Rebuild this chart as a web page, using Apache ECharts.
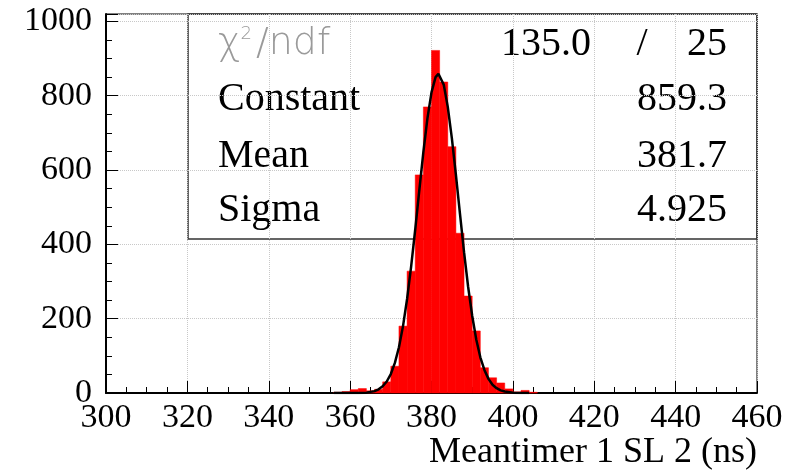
<!DOCTYPE html>
<html>
<head>
<meta charset="utf-8">
<script src="https://cdn.jsdelivr.net/npm/echarts@6/dist/echarts.min.js"></script>
<style>
html,body{margin:0;padding:0;background:#fff;}
#c{width:793px;height:471px;}
</style>
</head>
<body>
<div id="c"></div>
<script>
// Histogram bins (low edge, ns) and counts
var binWidth = 2;
var binLow = [356,358,360,362,364,366,368,370,372,374,376,378,380,382,384,386,388,390,392,394,396,398,400,402,404];
var counts = [2,4,9,12,6,10,30,72,180,328,587,770,922,837,663,430,261,167,68,41,27,11,3,7,2];

// Gaussian fit curve
var fitX = [356,358,360,362,364,366,367,368,369,370,371,372,373,374,375,376,377,378,379,380,381,381.7,382,383,384,385,386,387,388,389,390,391,392,393,394,395,396,397,398,400,402,404];
var fitY = [0,0,0,0,1,5,10,18,31,51,81,123,180,253,341,440,545,648,739,809,850,859,857,830,770,686,587,482,379,286,208,144,96,62,38,22,13,7,4,1,0,0];

// Stats box
var statNames = ['Constant','Mean','Sigma'];
var statValues = ['859.3','381.7','4.925'];
var chi2 = '135.0';
var ndf = '25';

// Axis
var xMin = 300, xMax = 460, xStep = 20;
var yMin = 0, yMax = 1020, yStep = 200;
var xTitle = 'Meantimer 1 SL 2 (ns)';

var histData = binLow.map(function(lo, i){ return [lo, lo + binWidth, counts[i]]; });
var fitData = fitX.map(function(x, i){ return [x, fitY[i]]; });

var serif = '"Liberation Serif","Times New Roman",serif';
var chart = echarts.init(document.getElementById('c'));

var graphics = [
  {type:'rect', shape:{x:188, y:14, width:569, height:225}, style:{fill:'none', stroke:'#333', lineWidth:1.5}, z:0},
  {type:'text', style:{x:218, y:44, text:'{a|χ}{b|2}{a|/ndf}', textVerticalAlign:'middle',
     rich:{a:{fontFamily:'"DejaVu Sans",sans-serif', fontWeight:200, fontSize:38, fill:'#9a9a9a', color:'#9a9a9a'},
           b:{fontFamily:'"DejaVu Sans",sans-serif', fontWeight:200, fontSize:18, fill:'#9a9a9a', color:'#9a9a9a', verticalAlign:'top', padding:[0,4,18,0]}}}},
  {type:'text', style:{x:591, y:44, text:chi2, textAlign:'right', textVerticalAlign:'middle', font:'40px '+serif, fill:'#000'}},
  {type:'text', style:{x:642, y:44, text:'/', textAlign:'center', textVerticalAlign:'middle', font:'40px '+serif, fill:'#000'}},
  {type:'text', style:{x:727, y:44, text:ndf, textAlign:'right', textVerticalAlign:'middle', font:'40px '+serif, fill:'#000'}}
];
var rowY = [99, 156, 210];
statNames.forEach(function(n, i){
  graphics.push({type:'text', style:{x:218, y:rowY[i], text:n, textVerticalAlign:'middle', font:'40px '+serif, fill:'#000'}});
  graphics.push({type:'text', style:{x:727, y:rowY[i], text:statValues[i], textAlign:'right', textVerticalAlign:'middle', font:'40px '+serif, fill:'#000'}});
});

chart.setOption({
  animation:false,
  backgroundColor:'#fff',
  grid:{left:106, right:36, top:14, bottom:77, show:true, borderColor:'#000', borderWidth:1},
  xAxis:{
    type:'value', min:xMin, max:xMax, interval:xStep,
    axisLine:{show:true, onZero:false, lineStyle:{color:'#000', width:2}},
    axisTick:{show:true, inside:true, length:12, lineStyle:{color:'#000', width:1}},
    minorTick:{show:true, splitNumber:4, length:6, lineStyle:{color:'#000', width:1}},
    splitLine:{show:true, lineStyle:{color:'#c8c8c8', type:'dotted', width:1}},
    axisLabel:{fontFamily:serif, fontSize:34, color:'#000', margin:8},
    name:xTitle, nameLocation:'end', nameGap:0,
    nameTextStyle:{fontFamily:serif, fontSize:36, color:'#000', align:'right', verticalAlign:'top', padding:[42,0,0,0]}
  },
  yAxis:{
    type:'value', min:yMin, max:yMax, interval:yStep,
    axisLine:{show:true, onZero:false, lineStyle:{color:'#000', width:2}},
    axisTick:{show:true, inside:true, length:12, lineStyle:{color:'#000', width:1}},
    minorTick:{show:true, splitNumber:4, length:6, lineStyle:{color:'#000', width:1}},
    splitLine:{show:true, lineStyle:{color:'#c8c8c8', type:'dotted', width:1}},
    axisLabel:{fontFamily:serif, fontSize:34, color:'#000', margin:14,
      formatter:function(v){ return (v % yStep === 0) ? String(v) : ''; }}
  },
  graphic: graphics,
  series:[
    {type:'custom', z:3, data:histData, encode:{x:[0,1], y:2},
     renderItem:function(params, api){
       var p1 = api.coord([api.value(0), api.value(2)]);
       var p2 = api.coord([api.value(1), 0]);
       return {type:'rect', shape:{x:p1[0], y:p1[1], width:p2[0]-p1[0], height:p2[1]-p1[1]},
               style:{fill:'#ff0000', stroke:'#ff0000', lineWidth:0.5}};
     }},
    {type:'line', z:4, data:fitData, showSymbol:false, symbol:'none', smooth:false,
     lineStyle:{color:'#000', width:2.5}}
  ]
});
</script>
</body>
</html>
